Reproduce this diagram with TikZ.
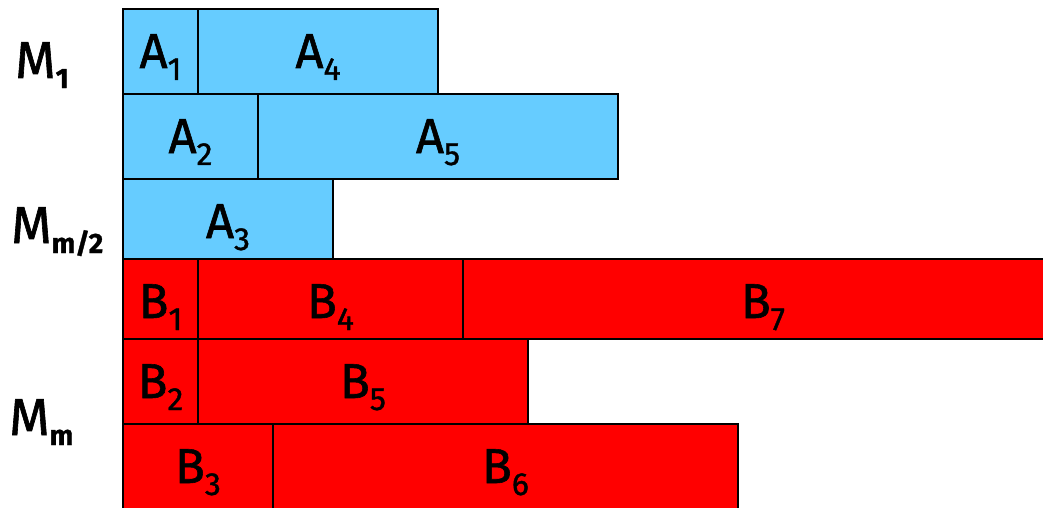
\documentclass[tikz,border=0pt]{standalone}
\usepackage{fontspec}
\setmainfont{Fira Sans}
\newfontfamily\labfont[FakeBold=1.2]{Fira Sans}
\definecolor{jobA}{RGB}{102,204,255}
\definecolor{jobB}{RGB}{255,0,0}
% job label: letter with a lowered, smaller index
\newcommand\joblbl[2]{#1\raisebox{-12pt}{\fontsize{32}{32}\selectfont #2}}
% machine label: letter with a bold index
\newcommand\machlbl[2]{#1\raisebox{-10pt}{\fontsize{28}{28}\selectfont\bfseries #2}}
\begin{document}
\begin{tikzpicture}[x=1pt,y=-1pt,
  cell/.style={draw=black, line width=2.5pt, rectangle, inner sep=0pt, outer sep=0pt, anchor=north west},
  acell/.style={cell, fill=jobA},
  bcell/.style={cell, fill=jobB},
  lab/.style={anchor=base, inner sep=0pt, font=\labfont\fontsize{49}{49}\selectfont},
  mach/.style={anchor=base west, inner sep=0pt, font=\labfont\fontsize{52}{52}\selectfont}]
\useasboundingbox (0,0) rectangle (1043,508);
\clip (0,0) rectangle (1043,508);

% machines running jobs A
\node[acell, minimum width=75pt,  minimum height=85pt] (a1) at (123,9) {};
\node[acell, minimum width=240pt, minimum height=85pt] (a4) at (198,9) {};
\node[acell, minimum width=135pt, minimum height=85pt] (a2) at (123,94) {};
\node[acell, minimum width=360pt, minimum height=85pt] (a5) at (258,94) {};
\node[acell, minimum width=210pt, minimum height=80pt] (a3) at (123,179) {};

% machines running jobs B
\node[bcell, minimum width=75pt,  minimum height=80pt] (b1) at (123,259) {};
\node[bcell, minimum width=265pt, minimum height=80pt] (b4) at (198,259) {};
\node[bcell, minimum width=600pt, minimum height=80pt] (b7) at (463,259) {};
\node[bcell, minimum width=75pt,  minimum height=85pt] (b2) at (123,339) {};
\node[bcell, minimum width=330pt, minimum height=85pt] (b5) at (198,339) {};
\node[bcell, minimum width=150pt, minimum height=100pt] (b3) at (123,424) {};
\node[bcell, minimum width=465pt, minimum height=100pt] (b6) at (273,424) {};

% job labels
\foreach \c/\l/\i in {a1/A/1, a4/A/4, a2/A/2, a5/A/5, a3/A/3,
                      b1/B/1, b4/B/4, b7/B/7, b2/B/2, b5/B/5, b3/B/3, b6/B/6}
  \node[lab] (t\c) at ([yshift=-59pt]\c.north) {\joblbl{\l}{\i}};

% machine labels
\node[mach] (m1)    at (15,78)  {\machlbl{M}{1}};
\node[mach] (mhalf) at (11,243) {\machlbl{M}{m/2}};
\node[mach] (mm)    at (9,435)  {\machlbl{M}{m}};
\end{tikzpicture}
\end{document}
